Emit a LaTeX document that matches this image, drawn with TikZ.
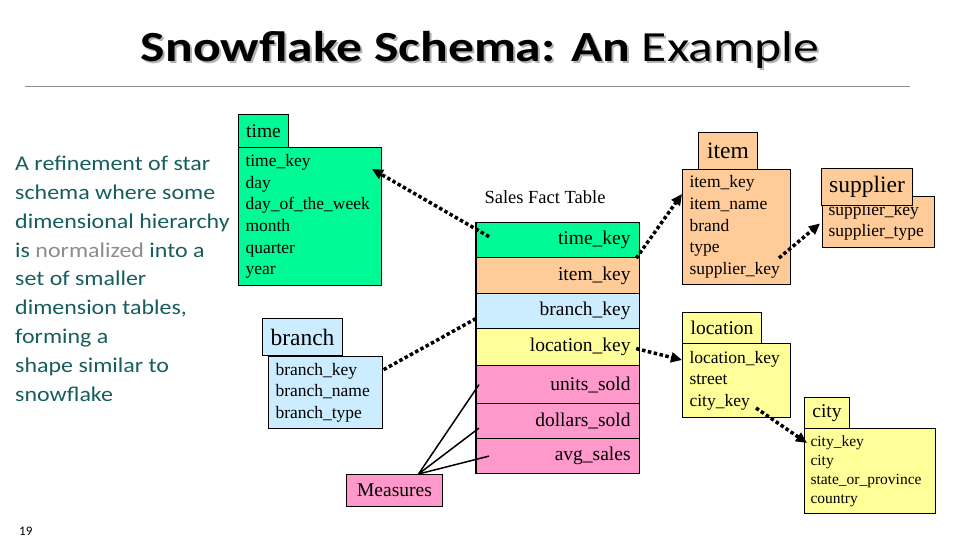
\documentclass[tikz,border=0pt]{standalone}
\usepackage{fontspec}
\setmainfont{Liberation Serif}
\newfontfamily\calibri{Carlito}
\usetikzlibrary{arrows.meta,calc}
\definecolor{tgreen}{RGB}{0,250,150}
\definecolor{torange}{RGB}{255,204,153}
\definecolor{tblue}{RGB}{204,236,255}
\definecolor{tyellow}{RGB}{255,255,153}
\definecolor{tpink}{RGB}{255,153,204}
\definecolor{teal}{RGB}{22,94,94}
\begin{document}
\begin{tikzpicture}[x=1pt,y=-1pt,
  tbl/.style={draw=black, line width=1pt, rectangle, inner sep=0pt, anchor=north west},
  body/.style={tbl, align=left, inner xsep=7pt, font=\fontsize{17.5}{21.6}\selectfont},
  hdr/.style={tbl, font=\fontsize{19.5}{22}\selectfont},
  bighdr/.style={tbl, font=\fontsize{23.5}{26}\selectfont},
  frow/.style={draw=black, line width=1.2pt, anchor=north west, minimum width=163pt,
    text width=145pt, align=right, inner xsep=9pt, inner ysep=0pt,
    font=\fontsize{19.5}{22}\selectfont},
  fk/.style={line width=3.5pt, dash pattern=on 3.5pt off 2.5pt},
  fkarrow/.style={fk, -{Triangle[length=11pt,width=10pt]}},
  mline/.style={line width=1.5pt},
  titlefont/.style={font=\calibri\fontsize{43}{46}\selectfont}
]
\useasboundingbox (0,0) rectangle (960,540);

% title
\node[anchor=base, titlefont, text=black!30, xscale=1.2, transform shape] (titleshadow) at (482,64)
  {\textbf{Snowflake Schema: An} Example};
\node[anchor=base, titlefont, xscale=1.2, transform shape] (title) at (480,62)
  {\textbf{Snowflake Schema: An} Example};
\draw[black!45, line width=1pt] (25,87) -- (910,87);

% description
\node[anchor=north west, align=left, inner sep=0pt, text=teal, xscale=1.14, transform shape,
  font=\calibri\fontsize{21}{28.8}\selectfont] (desc) at (15,156)
  {A refinement of star\\ schema where some\\ dimensional hierarchy\\
   is \textcolor{black!45}{normalized} into a\\ set of smaller\\ dimension tables,\\
   forming a\\ shape similar to\\ snowflake};

\node[anchor=base west, inner sep=0pt, font=\calibri\fontsize{13}{14}\selectfont] (pg) at (19,535) {19};

% time
\node[body, fill=tgreen, minimum width=143pt, minimum height=138pt, text width=129pt] (timeB) at (238,147)
  {time\_key\\ day\\ day\_of\_the\_week\\ month\\ quarter\\ year};
\node[hdr, fill=tgreen, minimum width=50pt, minimum height=33pt] (timeH) at (238,114) {time};

% branch
\node[body, fill=tblue, minimum width=114pt, minimum height=72pt, text width=100pt] (branchB) at (268,356)
  {branch\_key\\ branch\_name\\ branch\_type};
\node[bighdr, fill=tblue, minimum width=80pt, minimum height=37pt] (branchH) at (262,318) {branch};

% measures
\node[hdr, fill=tpink, minimum width=96pt, minimum height=32pt] (meas) at (346,474) {Measures};

% fact table
\node[anchor=base, font=\fontsize{18.5}{22}\selectfont] (factT) at (545,204) {Sales Fact Table};
\node[frow, fill=tgreen, minimum height=35pt] (fTime) at (476,222) {time\_key};
\node[frow, fill=torange, minimum height=36pt] (fItem) at (476,257) {item\_key};
\node[frow, fill=tblue, minimum height=35pt] (fBranch) at (476,293) {branch\_key};
\node[frow, fill=tyellow, minimum height=37pt] (fLoc) at (476,328) {location\_key};
\node[frow, fill=tpink, minimum height=38pt] (fUnits) at (476,365) {units\_sold};
\node[frow, fill=tpink, minimum height=35pt] (fDollars) at (476,403) {dollars\_sold};
\node[frow, fill=tpink, minimum height=35pt] (fAvg) at (476,438) {avg\_sales};
\draw[line width=2pt] (fTime.north west) -- (fAvg.south west);

% item
\node[body, fill=torange, minimum width=108pt, minimum height=115pt, text width=94pt] (itemB) at (682,169)
  {item\_key\\ item\_name\\ brand\\ type\\ supplier\_key};
\node[bighdr, fill=torange, minimum width=59pt, minimum height=37pt] (itemH) at (698,132) {item};

% supplier
\node[body, fill=torange, minimum width=112pt, minimum height=51pt, text width=100pt, inner xsep=6pt] (supB) at (822,196)
  {supplier\_key\\ supplier\_type};
\node[bighdr, fill=torange, minimum width=91pt, minimum height=37pt] (supH) at (821,168) {supplier};

% location
\node[body, fill=tyellow, minimum width=108pt, minimum height=74pt, text width=94pt] (locB) at (682,343)
  {location\_key\\ street\\ city\_key};
\node[hdr, fill=tyellow, minimum width=79pt, minimum height=31pt] (locH) at (682,312) {location};

% city
\node[body, fill=tyellow, minimum width=131pt, minimum height=85pt, text width=119pt, inner xsep=6pt,
  font=\fontsize{15.5}{19}\selectfont] (cityB) at (804,428)
  {city\_key\\ city\\ state\_or\_province\\ country};
\node[hdr, fill=tyellow, minimum width=45pt, minimum height=31pt] (cityH) at (804,397) {city};

% foreign key connectors
\draw[fkarrow] ($(fTime.west)+(13,-3.5)$) -- ($(timeB.north east)+(-10,22)$);
\draw[fkarrow] ($(fTime.south east)+(-4,0)$) -- ($(itemB.north west)+(0,25)$);
\draw[fk] ($(fBranch.west)+(0,7.5)$) -- ($(branchB.north east)+(0,14)$);
\draw[fkarrow] ($(fLoc.east)+(-4,1.5)$) -- ($(locB.north west)+(0,17)$);
\draw[fkarrow] ($(itemB.south east)+(-12,-27)$) -- ($(supB.west)+(-2,1.5)$);
\draw[fkarrow] ($(locB.south east)+(-35,-10)$) -- ($(cityB.north west)+(3,15)$);

% measures lines
\draw[mline] ($(meas.north)+(24,0)$) -- ($(fUnits.west)+(3,0)$);
\draw[mline] ($(meas.north)+(24,0)$) -- ($(fDollars.west)+(3,7)$);
\draw[mline] ($(meas.north)+(24,0)$) -- ($(fAvg.west)+(13,0)$);
\end{tikzpicture}
\end{document}
